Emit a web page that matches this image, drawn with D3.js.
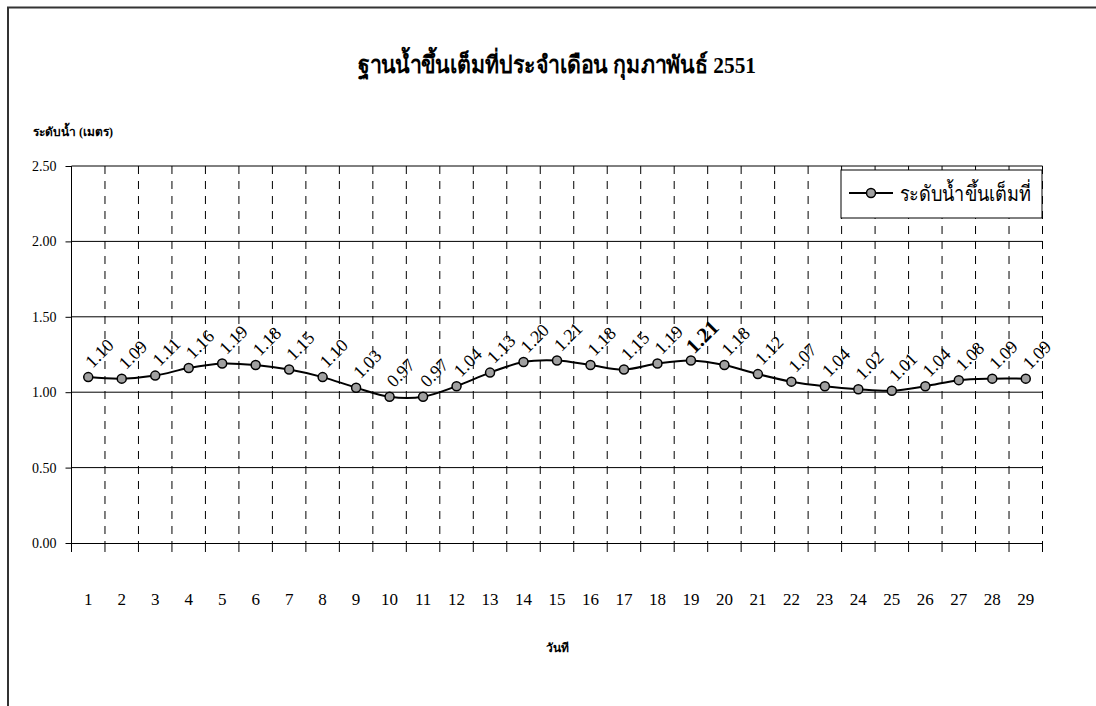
<!DOCTYPE html>
<html>
<head>
<meta charset="utf-8">
<script src="https://cdn.jsdelivr.net/npm/d3@7"></script>
<style>
  body { margin: 0; background: #fff; }
  text { font-family: "Times New Roman", "Liberation Serif", "DejaVu Serif", serif; fill: #000; }
</style>
</head>
<body>
<div id="chart"></div>
<script>
// Chart data
var days = ["1","2","3","4","5","6","7","8","9","10","11","12","13","14","15","16","17","18","19","20","21","22","23","24","25","26","27","28","29"];
var levels = [1.10,1.09,1.11,1.16,1.19,1.18,1.15,1.10,1.03,0.97,0.97,1.04,1.13,1.20,1.21,1.18,1.15,1.19,1.21,1.18,1.12,1.07,1.04,1.02,1.01,1.04,1.08,1.09,1.09];
var yTicks = [0, 0.5, 1.0, 1.5, 2.0, 2.5];
var boldDay = "19";

var title = "ฐานน้ำขึ้นเต็มที่ประจำเดือน กุมภาพันธ์ 2551";
var yTitle = "ระดับน้ำ (เมตร)";
var xTitle = "วันที";
var seriesName = "ระดับน้ำขึ้นเต็มที่";

// Chart params
var svgWidth = 1096;
var svgHeight = 706;
var margin = { top: 166, right: 53.5, bottom: 163, left: 71.5 };
var width = svgWidth - margin.left - margin.right;
var height = svgHeight - margin.top - margin.bottom;

var svg = d3.select("#chart")
    .append("svg")
    .attr("width", svgWidth)
    .attr("height", svgHeight);

// outer frame (top and left edges only visible)
svg.append("path")
    .attr("d", "M8,706 L8,7.5 L1096,7.5")
    .attr("fill", "none")
    .attr("stroke", "#333")
    .attr("stroke-width", 2);

var chartGroup = svg.append("g")
    .attr("transform", `translate(${margin.left}, ${margin.top})`);

var data = days.map((d, i) => ({ day: d, value: levels[i] }));

var xScale = d3.scaleBand()
    .domain(days)
    .range([0, width])
    .padding(0);

var yScale = d3.scaleLinear()
    .domain([0, 2.5])
    .range([height, 0]);

var bw = xScale.bandwidth();

// horizontal gridlines
chartGroup.append("g")
    .selectAll("line")
    .data(yTicks.slice(1))
    .enter()
    .append("line")
    .attr("x1", 0)
    .attr("x2", width)
    .attr("y1", d => yScale(d))
    .attr("y2", d => yScale(d))
    .attr("stroke", "#000")
    .attr("stroke-width", 1);

// vertical dashed gridlines at category boundaries
chartGroup.append("g")
    .selectAll("line")
    .data(days)
    .enter()
    .append("line")
    .attr("x1", d => xScale(d) + bw)
    .attr("x2", d => xScale(d) + bw)
    .attr("y1", 0)
    .attr("y2", height)
    .attr("stroke", "#000")
    .attr("stroke-width", 1)
    .attr("stroke-dasharray", "8,7");

// y axis
var leftAxis = d3.axisLeft(yScale)
    .tickValues(yTicks)
    .tickSize(6)
    .tickPadding(9)
    .tickFormat(d3.format(".2f"));

var yAxisG = chartGroup.append("g").call(leftAxis).attr("font-family", null);
yAxisG.select(".domain").attr("stroke", "#000").attr("d", `M0,0V${height}`);
yAxisG.selectAll("text").style("font-size", "14px");

// x axis: labels at category centres, ticks at boundaries
var bottomAxis = d3.axisBottom(xScale)
    .tickSize(0)
    .tickPadding(50);

var xAxisG = chartGroup.append("g")
    .attr("transform", `translate(0, ${height})`)
    .call(bottomAxis)
    .attr("font-family", null);
xAxisG.select(".domain").attr("stroke", "#000");
xAxisG.selectAll("text").style("font-size", "17px");

xAxisG.selectAll("line.bound")
    .data(days)
    .enter()
    .append("line")
    .attr("class", "bound")
    .attr("x1", d => xScale(d) + bw)
    .attr("x2", d => xScale(d) + bw)
    .attr("y1", 0)
    .attr("y2", 9)
    .attr("stroke", "#000");
xAxisG.append("line")
    .attr("x1", 0).attr("x2", 0)
    .attr("y1", 0).attr("y2", 9)
    .attr("stroke", "#000");

// series line
var line = d3.line()
    .x(d => xScale(d.day) + bw / 2)
    .y(d => yScale(d.value))
    .curve(d3.curveCatmullRom.alpha(0));

chartGroup.append("path")
    .datum(data)
    .attr("d", line)
    .attr("fill", "none")
    .attr("stroke", "#000")
    .attr("stroke-width", 2);

// markers
chartGroup.selectAll("circle.pt")
    .data(data)
    .enter()
    .append("circle")
    .attr("class", "pt")
    .attr("cx", d => xScale(d.day) + bw / 2)
    .attr("cy", d => yScale(d.value))
    .attr("r", 4.5)
    .attr("fill", "#a0a0a0")
    .attr("stroke", "#000")
    .attr("stroke-width", 1.5);

// data labels, rotated
chartGroup.selectAll("text.lbl")
    .data(data)
    .enter()
    .append("text")
    .attr("class", "lbl")
    .attr("text-anchor", "middle")
    .attr("transform", d => {
        var cx = xScale(d.day) + bw / 2 + 11;
        var cy = yScale(d.value) - 24;
        return `translate(${cx}, ${cy}) rotate(-45)`;
    })
    .attr("dy", "0.35em")
    .style("font-size", d => d.day === boldDay ? "21px" : "18px")
    .style("font-weight", d => d.day === boldDay ? "bold" : "normal")
    .text(d => d3.format(".2f")(d.value));

// titles
svg.append("text")
    .attr("x", margin.left + width / 2)
    .attr("y", 73)
    .attr("text-anchor", "middle")
    .attr("textLength", 398)
    .attr("lengthAdjust", "spacingAndGlyphs")
    .style("font-size", "24px")
    .style("font-weight", "bold")
    .text(title);

svg.append("text")
    .attr("x", 33)
    .attr("y", 136)
    .style("font-size", "12px")
    .style("font-weight", "bold")
    .text(yTitle);

svg.append("text")
    .attr("x", margin.left + width / 2)
    .attr("y", 652)
    .attr("text-anchor", "middle")
    .style("font-size", "12px")
    .style("font-weight", "bold")
    .text(xTitle);

// legend
var legend = svg.append("g")
    .attr("transform", "translate(841, 170)");

legend.append("rect")
    .attr("width", 201)
    .attr("height", 48)
    .attr("fill", "#fff")
    .attr("stroke", "#000")
    .attr("stroke-width", 1);

legend.append("line")
    .attr("x1", 8).attr("x2", 52)
    .attr("y1", 23).attr("y2", 23)
    .attr("stroke", "#000")
    .attr("stroke-width", 2);

legend.append("circle")
    .attr("cx", 30).attr("cy", 23)
    .attr("r", 4.5)
    .attr("fill", "#a0a0a0")
    .attr("stroke", "#000")
    .attr("stroke-width", 1.5);

legend.append("text")
    .attr("x", 59)
    .attr("y", 31)
    .attr("textLength", 131)
    .attr("lengthAdjust", "spacingAndGlyphs")
    .style("font-size", "21px")
    .text(seriesName);
</script>
</body>
</html>
